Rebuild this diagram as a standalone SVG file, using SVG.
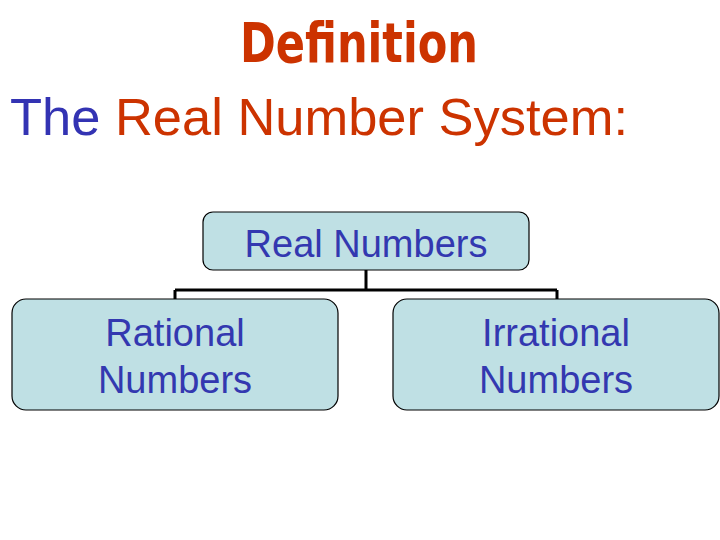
<svg xmlns="http://www.w3.org/2000/svg" width="720" height="540" viewBox="0 0 720 540">
<style>
.box{fill:#bfe0e4;stroke:#000;stroke-width:1.2}
.lbl{font-family:"Liberation Sans",Arial,sans-serif;font-size:38px;fill:#3338b0;text-anchor:middle}
.con{fill:none;stroke:#000;stroke-width:3}
</style>
<rect width="720" height="540" fill="#fff"/>
<text x="240" y="62" font-family="'DejaVu Sans Condensed','Liberation Sans Narrow','Liberation Sans',sans-serif" font-stretch="condensed" font-weight="bold" font-size="56" fill="#cc3300" textLength="238" lengthAdjust="spacingAndGlyphs">Definition</text>
<text x="10" y="135" font-family="'Liberation Sans',Arial,sans-serif" font-size="52" textLength="618" lengthAdjust="spacingAndGlyphs"><tspan fill="#3333b3">The</tspan><tspan fill="#cc3300"> Real Number System:</tspan></text>
<g id="connectors">
<path class="con" d="M366 270 V290 M175 290 H557 M175 290 V299 M557 290 V299"/>
</g>
<g id="real">
<rect class="box" x="203" y="212" width="326" height="58" rx="10"/>
<text class="lbl" x="366" y="257">Real Numbers</text>
</g>
<g id="rational">
<rect class="box" x="12" y="299" width="326" height="111" rx="14"/>
<text class="lbl" x="175" y="346">Rational</text>
<text class="lbl" x="175" y="393">Numbers</text>
</g>
<g id="irrational">
<rect class="box" x="393" y="299" width="326" height="111" rx="14"/>
<text class="lbl" x="556" y="346">Irrational</text>
<text class="lbl" x="556" y="393">Numbers</text>
</g>
</svg>
